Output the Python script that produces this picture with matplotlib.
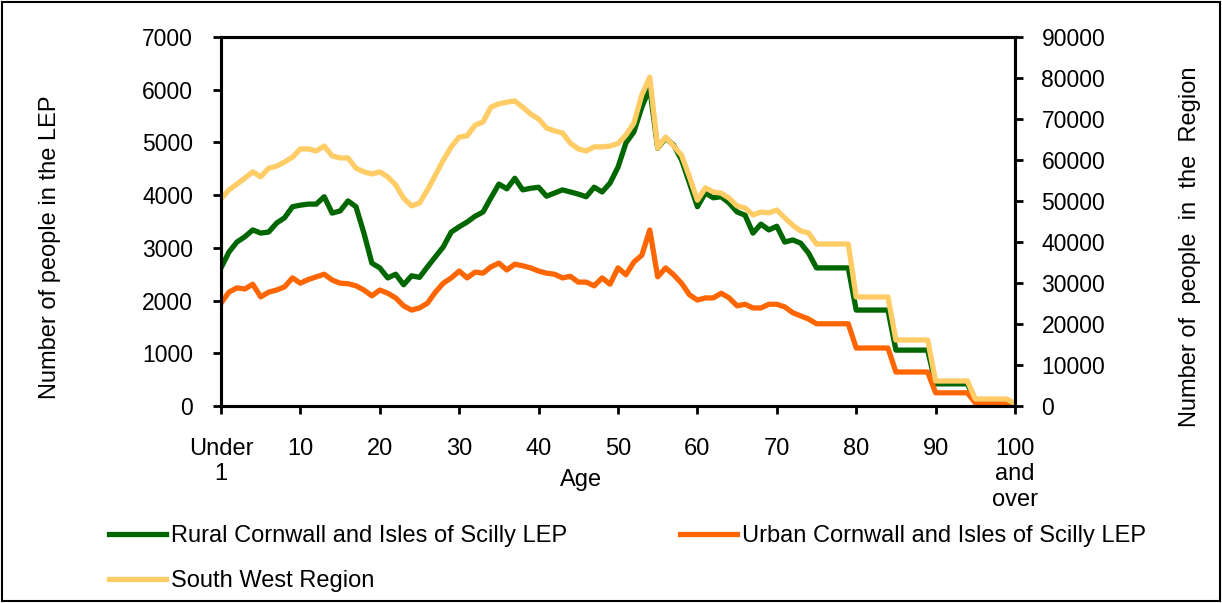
import matplotlib
matplotlib.use("Agg")
import matplotlib.pyplot as plt
from matplotlib.patches import Rectangle

plt.rcParams['font.family'] = ['Liberation Sans', 'DejaVu Sans']

ages = list(range(0, 101))

rural = [2620, 2920, 3110, 3210, 3340, 3280, 3300, 3470, 3570, 3780,
         3810, 3830, 3830, 3970, 3660, 3700, 3890, 3780, 3280, 2710,
         2620, 2430, 2500, 2300, 2470, 2440, 2640, 2830, 3020, 3300,
         3400, 3490, 3600, 3680, 3950, 4210, 4120, 4320, 4100, 4130,
         4150, 3980, 4040, 4100, 4060, 4020, 3970, 4150, 4060, 4230,
         4530, 4990, 5200, 5670, 6030, 4890, 5080, 4950, 4670, 4230,
         3780, 4040, 3950, 3970, 3850, 3680, 3620, 3280, 3450, 3340,
         3410, 3110, 3150, 3090, 2900,
         2620, 2620, 2620, 2620, 2620,
         1820, 1820, 1820, 1820, 1820,
         1060, 1060, 1060, 1060, 1060,
         420, 420, 420, 420, 420,
         110, 110, 110, 110, 110,
         40]

urban = [1950, 2160, 2240, 2220, 2310, 2070, 2160, 2200, 2260, 2430,
         2330, 2400, 2450, 2500, 2390, 2330, 2320, 2280, 2200, 2090,
         2200, 2140, 2050, 1900, 1820, 1860, 1950, 2160, 2330, 2430,
         2560, 2430, 2540, 2520, 2640, 2710, 2580, 2690, 2660, 2620,
         2560, 2520, 2500, 2430, 2460, 2350, 2350, 2280, 2430, 2310,
         2620, 2490, 2730, 2860, 3340, 2450, 2620, 2490, 2330, 2110,
         2010, 2050, 2050, 2140, 2050, 1900, 1930, 1860, 1860, 1930,
         1930, 1880, 1770, 1710, 1650,
         1560, 1560, 1560, 1560, 1560,
         1100, 1100, 1100, 1100, 1100,
         645, 645, 645, 645, 645,
         250, 250, 250, 250, 250,
         60, 60, 60, 60, 60,
         20]

region = [50500, 52700, 54100, 55600, 57100, 55900, 58000, 58500, 59500, 60700,
          62700, 62700, 62200, 63400, 61000, 60500, 60500, 58000, 57100, 56600,
          57100, 55900, 53900, 50700, 48800, 49500, 52700, 56300, 60000, 63200,
          65600, 65900, 68500, 69300, 72900, 73700, 74100, 74400, 72900, 71200,
          70000, 67800, 67100, 66600, 64100, 62700, 62200, 63200, 63200, 63400,
          64000, 66100, 69000, 75900, 80200, 62900, 65600, 63400, 61200, 55900,
          50200, 53200, 52200, 51900, 50700, 48800, 48300, 46600, 47300, 47100,
          47800, 45900, 44100, 42700, 42200,
          39500, 39500, 39500, 39500, 39500,
          26600, 26600, 26600, 26600, 26600,
          16100, 16100, 16100, 16100, 16100,
          6100, 6100, 6100, 6100, 6100,
          1700, 1700, 1700, 1700, 1700,
          500]

xticks = [0, 10, 20, 30, 40, 50, 60, 70, 80, 90, 100]
xlabels = ['Under\n1', '10', '20', '30', '40', '50', '60', '70', '80', '90', '100\nand\nover']

fs = 16.5
lfs = 17

fig = plt.figure(figsize=(12.22, 6.03), dpi=100)
ax = fig.add_axes([221/1222, 1-406/603, 794/1222, 369/603])
ax2 = ax.twinx()

l1, = ax.plot(ages, rural, color='#006600', lw=3.8, solid_joinstyle='round', label='Rural Cornwall and Isles of Scilly LEP')
l2, = ax.plot(ages, urban, color='#FF6600', lw=3.8, solid_joinstyle='round', label='Urban Cornwall and Isles of Scilly LEP')
l3, = ax2.plot(ages, region, color='#FFCC66', lw=3.8, solid_joinstyle='round', label='South West Region')

ax.set_xlim(0, 100)
ax.set_ylim(0, 7000)
ax2.set_ylim(0, 90000)
ax.set_yticks(range(0, 7001, 1000))
ax2.set_yticks(range(0, 90001, 10000))
ax.set_xticks(xticks)
ax.set_xticklabels(xlabels, fontsize=lfs, linespacing=1.2)

for a in (ax, ax2):
    for s in a.spines.values():
        s.set_linewidth(2.2)
    a.tick_params(width=2, length=6, labelsize=fs, color='black')
ax.tick_params(axis='x', pad=17, labelsize=lfs)
ax.tick_params(axis='y', pad=14)
ax2.tick_params(axis='y', pad=13)

ax.set_xlabel('Age', fontsize=lfs)
ax.xaxis.set_label_coords(0.453, -0.17)

fig.text(50/1222, 1-247/603, 'Number of people in the LEP', rotation=90, ha='center', va='center', fontsize=lfs)
fig.text(1190/1222, 1-247/603, 'Number of  people  in  the  Region', rotation=90, ha='center', va='center', fontsize=lfs)

fig.legend(handles=[l1, l3, l2], loc='upper left', bbox_to_anchor=(100/1222, 1-516/603),
           ncol=2, frameon=False, fontsize=lfs, handlelength=2.4, handletextpad=0.2,
           columnspacing=4.8, labelspacing=0.95, borderaxespad=0)

fig.patches.append(Rectangle((0.002, 0.003), 0.996, 0.994, transform=fig.transFigure,
                             fill=False, edgecolor='black', lw=1.5))

fig.savefig('out.png', dpi=100)
